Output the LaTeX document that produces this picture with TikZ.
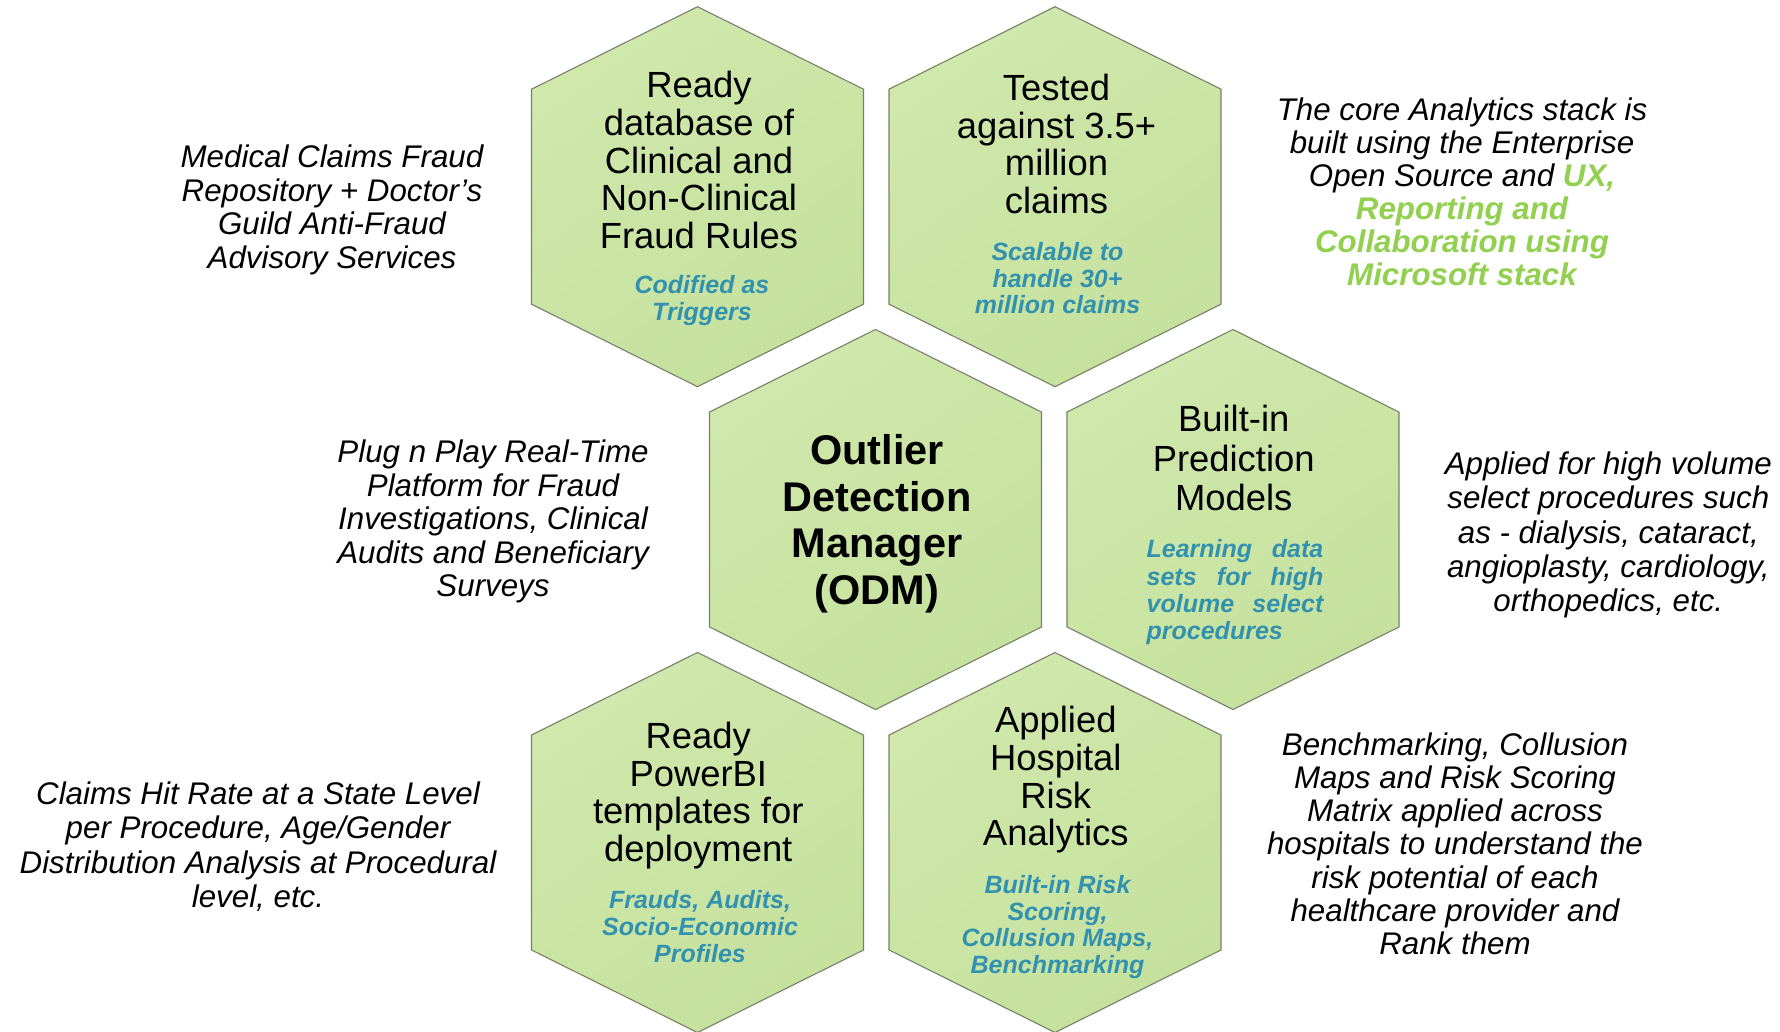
\documentclass[tikz,border=0pt]{standalone}
\usepackage{fontspec}
\setmainfont{Liberation Sans}
\definecolor{hexfillA}{RGB}{208,232,172}
\definecolor{hexfillB}{RGB}{197,225,157}
\definecolor{hexline}{RGB}{118,130,104}
\definecolor{subteal}{RGB}{50,145,175}
\definecolor{accentgreen}{RGB}{146,208,80}
\tikzset{
  hexcell/.style={draw=hexline, line width=1.1pt, top color=hexfillA, bottom color=hexfillB, shading angle=35},
  maintext/.style={align=center, inner sep=0pt, font=\fontsize{36.4}{37.7}\selectfont},
  subtext/.style={align=center, inner sep=0pt, text=subteal, font=\fontsize{25}{26.7}\selectfont\bfseries\itshape},
  odmtext/.style={align=center, inner sep=0pt, font=\fontsize{41.5}{46.5}\selectfont\bfseries},
  sidetext/.style={align=center, inner sep=0pt, font=\fontsize{31.3}{32.4}\selectfont\itshape},
}
\newcommand\hexcellat[2]{\path[hexcell] (#1,#2) ++(0,-190) -- ++(166,82.5) -- ++(0,215) -- ++(-166,82.5) -- ++(-166,-82.5) -- ++(0,-215) -- cycle;}
\newcommand\jline[1]{\makebox[176.7pt][s]{#1}}
\begin{document}
\begin{tikzpicture}[x=1pt,y=-1pt]
\useasboundingbox[fill=white] (0,0) rectangle (1780,1031);
% hexagons
\hexcellat{697.5}{196.7}
\hexcellat{1055}{196.7}
\hexcellat{875.5}{519.5}
\hexcellat{1233}{519.5}
\hexcellat{697.5}{842.5}
\hexcellat{1055}{842.5}
% hexagon texts
\node[maintext] (h1main) at (699,160) {Ready\\database of\\Clinical and\\Non-Clinical\\Fraud Rules};
\node[subtext] (h1sub) at (702,300.5) {Codified as\\Triggers};
\node[maintext] (h2main) at (1056.5,144) {Tested\\against 3.5+\\million\\claims};
\node[subtext] (h2sub) at (1057.5,278.3) {Scalable to\\handle 30+\\million claims};
\node[odmtext] (odm) at (877,524) {Outlier\\Detection\\Manager\\(ODM)};
\node[maintext, font=\fontsize{36.4}{39.7}\selectfont] (h4main) at (1233.7,458) {Built-in\\Prediction\\Models};
\node[subtext, align=left, font=\fontsize{25}{27.2}\selectfont\bfseries\itshape] (h4sub) at (1235,592.3) {\jline{Learning data}\\\jline{sets for high}\\\jline{volume select}\\procedures};
\node[maintext] (h5main) at (698.3,795.5) {Ready\\PowerBI\\templates for\\deployment};
\node[subtext] (h5sub) at (700,926.5) {Frauds, Audits,\\Socio-Economic\\Profiles};
\node[maintext] (h6main) at (1055.8,780) {Applied\\Hospital\\Risk\\Analytics};
\node[subtext] (h6sub) at (1057.5,927) {Built-in Risk\\Scoring,\\Collusion Maps,\\Benchmarking};
% side texts
\node[sidetext, font=\fontsize{31.3}{33.8}\selectfont\itshape] (ltop) at (332,210) {Medical Claims Fraud\\Repository + Doctor’s\\Guild Anti-Fraud\\Advisory Services};
\node[sidetext, font=\fontsize{31.3}{33.5}\selectfont\itshape] (lmid) at (493,521.7) {Plug n Play Real-Time\\Platform for Fraud\\Investigations, Clinical\\Audits and Beneficiary\\Surveys};
\node[sidetext, font=\fontsize{31.3}{34.4}\selectfont\itshape] (lbot) at (258,846.7) {Claims Hit Rate at a State Level\\per Procedure, Age/Gender\\Distribution Analysis at Procedural\\level, etc.};
\node[sidetext, font=\fontsize{31.3}{32.9}\selectfont\itshape] (rtop) at (1462,191.7) {The core Analytics stack is\\built using the Enterprise\\Open Source and \textcolor{accentgreen}{\bfseries UX,}\\\textcolor{accentgreen}{\bfseries Reporting and}\\\textcolor{accentgreen}{\bfseries Collaboration using}\\\textcolor{accentgreen}{\bfseries Microsoft stack}};
\node[sidetext, font=\fontsize{31.3}{34.4}\selectfont\itshape] (rmid) at (1608.3,535) {Applied for high volume\\select procedures such\\as - dialysis, cataract,\\angioplasty, cardiology,\\orthopedics, etc.};
\node[sidetext, font=\fontsize{31.3}{33.1}\selectfont\itshape] (rbot) at (1455,843.7) {Benchmarking, Collusion\\Maps and Risk Scoring\\Matrix applied across\\hospitals to understand the\\risk potential of each\\healthcare provider and\\Rank them};
\end{tikzpicture}
\end{document}
